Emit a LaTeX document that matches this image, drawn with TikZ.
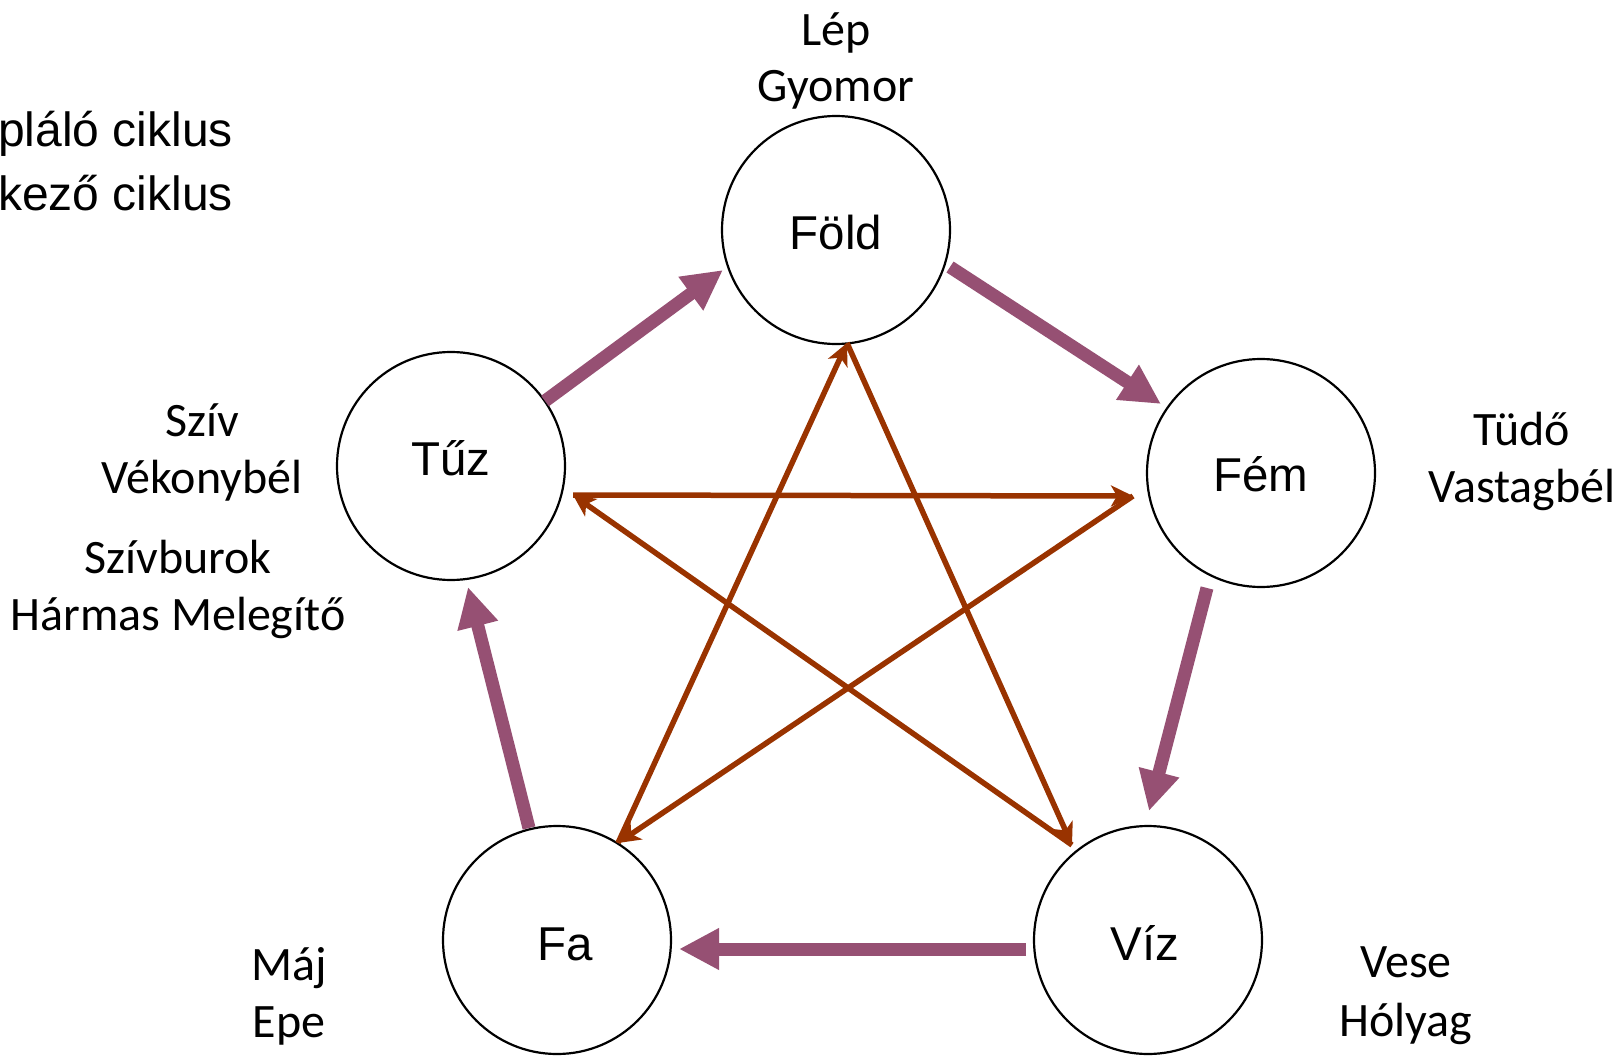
\documentclass[tikz,border=0pt]{standalone}
\usepackage{fontspec}
\setmainfont{Liberation Sans}
\newfontfamily\organfont{Carlito}
\usetikzlibrary{arrows.meta}
\definecolor{feed}{RGB}{150,80,115}
\definecolor{ctrl}{RGB}{153,51,0}
\tikzset{
  elem/.style={circle, draw=black, line width=2.2pt, minimum size=228pt, inner sep=0pt},
  elemtext/.style={anchor=base, inner sep=0pt, font=\fontsize{47.5}{56}\selectfont},
  organ/.style={anchor=base, inner sep=0pt, font=\organfont\fontsize{48}{56}\selectfont},
  legend/.style={anchor=base west, inner sep=0pt, font=\fontsize{48}{56}\selectfont},
  feedarrow/.style={draw=feed, line width=13pt, -{Triangle[length=40pt,width=39pt]}},
  ctrlarrow/.style={draw=ctrl, line width=5.5pt, -{Stealth[length=22pt,width=21pt,inset=6pt]}}
}
\begin{document}
\begin{tikzpicture}[x=1pt,y=-1pt]
\useasboundingbox (0,0) rectangle (1623,1057);
\clip (0,0) rectangle (1623,1057);

% legend (cut off at the left edge)
\node[legend] (leg1) at (-2,146) {pláló ciklus};
\node[legend] (leg2) at (-2,210) {kező ciklus};

% element circles
\node[elem] (fold) at (836,230) {};
\node[elem] (tuz) at (451,466) {};
\node[elem] (fem) at (1261,473) {};
\node[elem] (fa) at (557,940) {};
\node[elem] (viz) at (1148,940) {};

% element names
\node[elemtext] (tfold) at (836,249) {Föld};
\node[elemtext] (ttuz) at (451,475) {Tűz};
\node[elemtext] (tfem) at (1261,491) {Fém};
\node[elemtext] (tfa) at (565,960) {Fa};
\node[elemtext] (tviz) at (1145,960) {Víz};

% organs
\node[organ] (o1) at (836,46) {Lép};
\node[organ] (o2) at (836,102) {Gyomor};
\node[organ] (o3) at (202,436) {Szív};
\node[organ] (o4) at (202,493) {Vékonybél};
\node[organ] (o5) at (178,573) {Szívburok};
\node[organ] (o6) at (178,630) {Hármas Melegítő};
\node[organ] (o7) at (1522,445) {Tüdő};
\node[organ] (o8) at (1522,502) {Vastagbél};
\node[organ] (o9) at (289,980) {Máj};
\node[organ] (o10) at (289,1037) {Epe};
\node[organ] (o11) at (1406,977) {Vese};
\node[organ] (o12) at (1406,1036) {Hólyag};

% feeding cycle end points
\coordinate (a1s) at (545,401);  \coordinate (a1e) at (723,270);
\coordinate (a2s) at (950,267);  \coordinate (a2e) at (1161,404);
\coordinate (a3s) at (1207,588); \coordinate (a3e) at (1149,811);
\coordinate (a4s) at (1026,949); \coordinate (a4e) at (679,949);
\coordinate (a5s) at (529,828);  \coordinate (a5e) at (468,587);

\draw[feedarrow] (a1s) -- (a1e);
\draw[feedarrow] (a2s) -- (a2e);
\draw[feedarrow] (a3s) -- (a3e);
\draw[feedarrow] (a4s) -- (a4e);
\draw[feedarrow] (a5s) -- (a5e);

% controlling cycle (star)
\coordinate (pF) at (847,343);
\coordinate (pT) at (573,495);
\coordinate (pM) at (1133,496);
\coordinate (pA) at (618,843);
\coordinate (pV) at (1072,845);

\draw[ctrlarrow] (pA) -- (pF);
\draw[ctrlarrow] (pF) -- (pV);
\draw[ctrlarrow] (pV) -- (pT);
\draw[ctrlarrow] (pT) -- (pM);
\draw[ctrlarrow] (pM) -- (pA);
\end{tikzpicture}
\end{document}
